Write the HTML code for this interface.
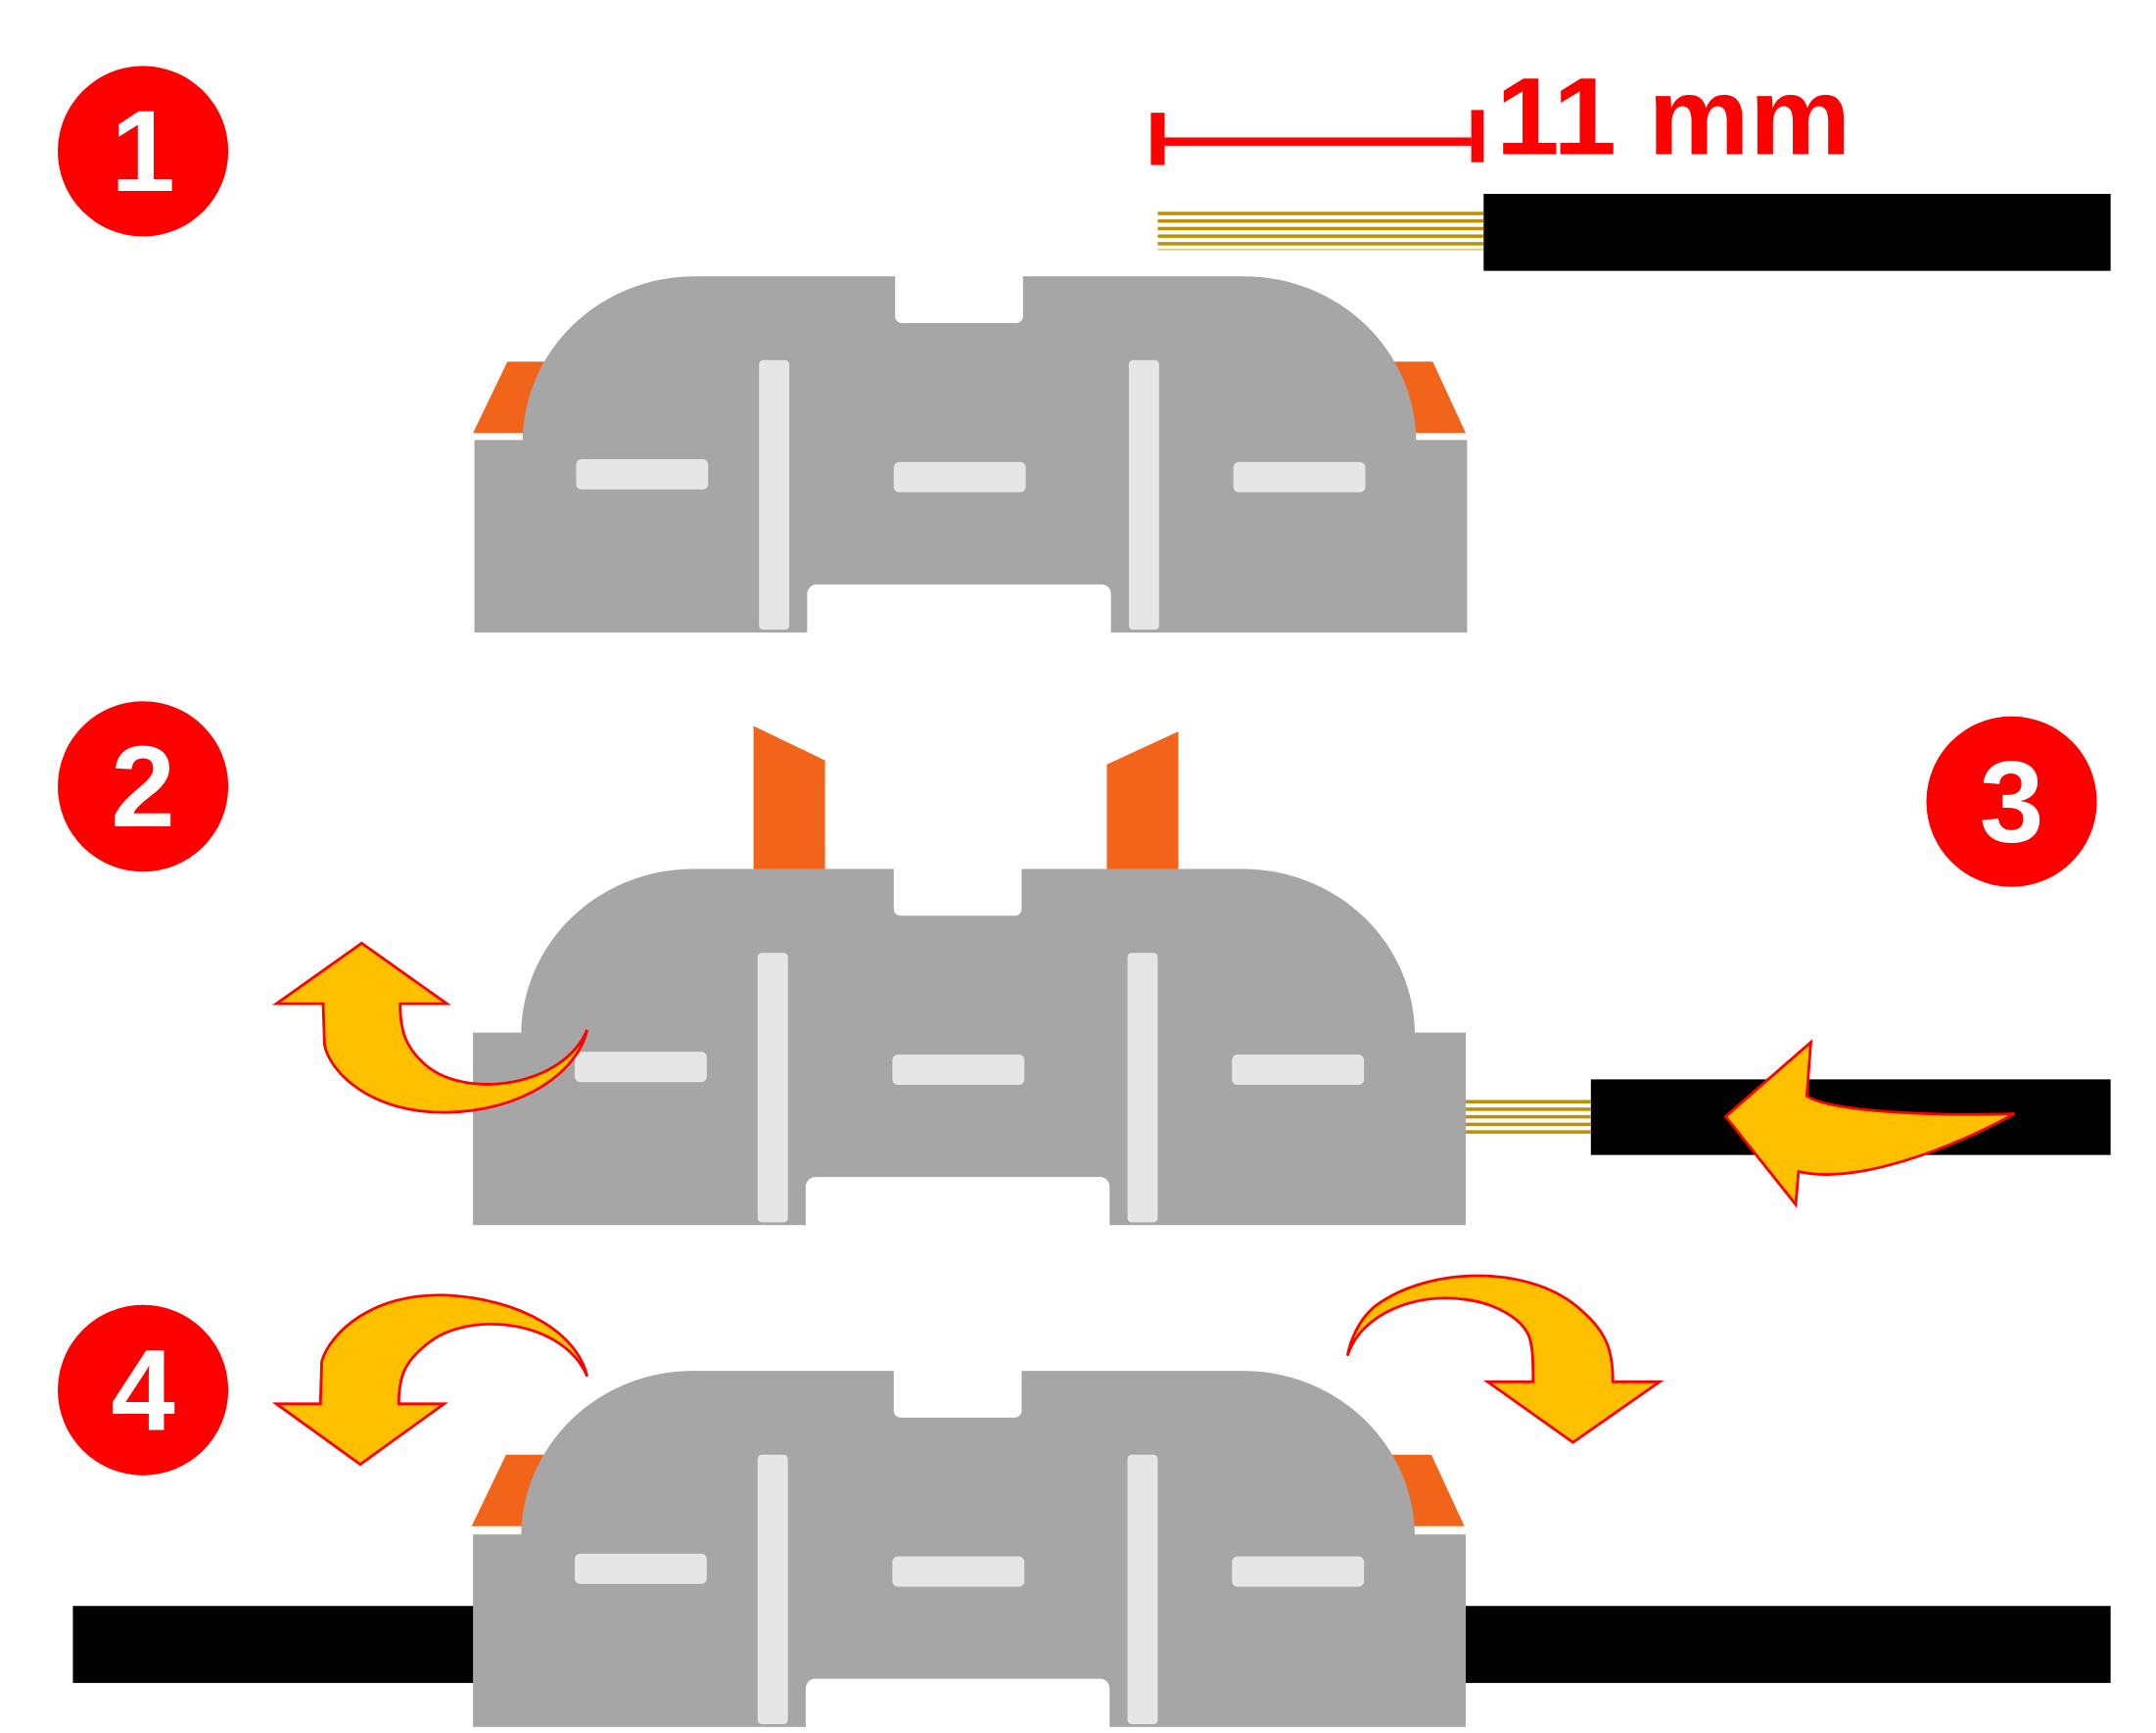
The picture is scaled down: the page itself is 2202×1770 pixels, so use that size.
<!DOCTYPE html>
<html><head><meta charset="utf-8"><style>html,body{margin:0;padding:0;background:#fff}svg{display:block}</style></head>
<body>
<svg width="2202" height="1770" viewBox="0 0 1568 1260.4" xmlns="http://www.w3.org/2000/svg">
<defs>
<g id="body">
  <rect x="345" y="320" width="722" height="140" fill="#a6a6a6"/>
  <path d="M380,322 A125,121 0 0 1 505,201 L905,201 A125,121 0 0 1 1030,322 Z" fill="#a6a6a6"/>
  <rect x="651" y="194" width="93" height="41" rx="5" fill="#fff"/>
  <rect x="587" y="425" width="221" height="42" rx="7" fill="#fff"/>
  <rect x="552" y="262" width="22" height="196" rx="3" fill="#e6e6e6"/>
  <rect x="821" y="262" width="22" height="196" rx="3" fill="#e6e6e6"/>
  <rect x="419" y="334" width="96" height="22" rx="4" fill="#e6e6e6"/>
  <rect x="650" y="336" width="96" height="22" rx="4" fill="#e6e6e6"/>
  <rect x="897" y="336" width="96" height="22" rx="4" fill="#e6e6e6"/>
</g>
<g id="tri">
  <polygon points="344,315 369,263 400,263 385,315" fill="#f26419"/>
  <polygon points="1010,263 1042,263 1066,315 1028,315" fill="#f26419"/>
</g>
</defs>

<use href="#tri"/>
<use href="#body"/>
<polygon points="548,528 600,553 600,640 548,640" fill="#f26419"/>
<polygon points="805,556 857,532 857,640 805,640" fill="#f26419"/>
<use href="#body" transform="translate(-1,431)"/>
<rect x="53" y="1168" width="300" height="56" fill="#000"/>
<rect x="1060" y="1168" width="475" height="56" fill="#000"/>
<use href="#tri" transform="translate(-1,795)"/>
<use href="#body" transform="translate(-1,796)"/>

<rect x="837" y="82" width="10" height="38" fill="#f00"/>
<rect x="847" y="100" width="223" height="6" fill="#f00"/>
<rect x="1070" y="80" width="9" height="38" fill="#f00"/>
<text x="1088" y="112" font-family="Liberation Sans, sans-serif" font-weight="bold" font-size="80" fill="#f00" textLength="258" lengthAdjust="spacingAndGlyphs">11 mm</text>

<rect x="1079" y="141" width="456" height="56" fill="#000"/>
<g fill="#bf9000">
<rect x="842" y="154" width="237" height="2.5"/><rect x="842" y="159.5" width="237" height="2.5"/><rect x="842" y="165" width="237" height="2.5"/><rect x="842" y="170.5" width="237" height="2.5"/><rect x="842" y="176" width="237" height="2.5"/><rect x="842" y="181" width="237" height="1" opacity=".6"/>
</g>
<rect x="1157" y="785" width="378" height="55" fill="#000"/>
<g fill="#bf9000">
<rect x="1066" y="800" width="91" height="2.5"/><rect x="1066" y="805.5" width="91" height="2.5"/><rect x="1066" y="811" width="91" height="2.5"/><rect x="1066" y="816.5" width="91" height="2.5"/><rect x="1066" y="822" width="91" height="2.5"/>
</g>

<g fill="#ffc000" stroke="#f00" stroke-width="2">
<path d="M201,730 L263,686 L325,730 L291,730 C291,750 295,762 310,775 C340,800 410,790 427,749 C420,780 380,808 325,809 C270,810 240,780 236,760 L235,730 Z"/>
<path d="M1255,812 L1317,758 L1314,797 C1330,808 1400,812 1465,810 C1420,835 1350,862 1308,852 L1306,876 Z"/>
<path d="M201,1021 L262,1065 L323,1021 L290,1021 C290,1000 295,990 310,978 C340,952 410,960 427,1001 C420,970 380,945 325,942 C270,940 240,970 234,990 L233,1021 Z"/>
<path d="M1082,1005 L1144,1049 L1207,1005 L1173,1005 C1173,985 1170,970 1150,953 C1115,920 1040,920 1000,950 C988,960 982,975 980,986 C990,955 1030,940 1065,945 C1090,948 1105,960 1110,968 C1115,975 1115,990 1115,1005 Z"/>
</g>

<g font-family="Liberation Sans, DejaVu Sans, sans-serif" font-weight="bold" font-size="84" fill="#fff" text-anchor="middle">
<circle cx="104" cy="110" r="62" fill="#f00"/><text x="104" y="139">1</text>
<circle cx="104" cy="572" r="62" fill="#f00"/><text x="104" y="601">2</text>
<circle cx="1463" cy="583" r="62" fill="#f00"/><text x="1463" y="612">3</text>
<circle cx="104" cy="1011" r="62" fill="#f00"/><text x="104" y="1040">4</text>
</g>
</svg>
</body></html>
